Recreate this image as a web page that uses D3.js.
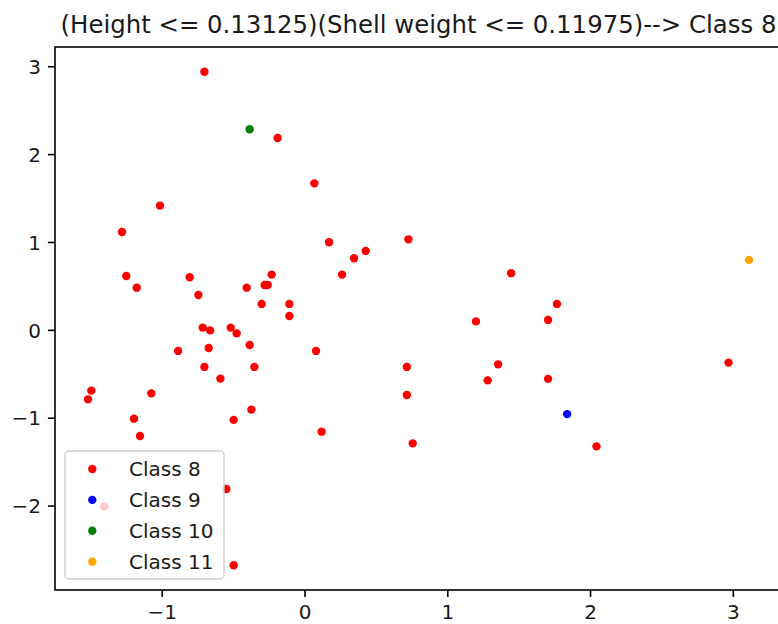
<!DOCTYPE html>
<html>
<head>
<meta charset="utf-8">
<script src="https://cdn.jsdelivr.net/npm/d3@7"></script>
<style>
  html, body { margin: 0; padding: 0; background: #fff; }
  svg { display: block; font-family: "DejaVu Sans", sans-serif; }
</style>
</head>
<body>
<svg id="chart" width="778" height="624"></svg>
<script>
// Class labels shown in the legend
const classNames = ["Class 8", "Class 9", "Class 10", "Class 11"];

// Projected samples, one [x, y] pair per point, grouped by class
const class8Points = [
  [-0.701, 2.938], [-0.188, 2.184], [0.069, 1.667], [-1.012, 1.414],
  [-1.278, 1.114], [0.172, 0.996], [0.728, 1.030], [0.429, 0.898],
  [0.347, 0.814], [0.263, 0.628], [-1.248, 0.613], [-0.804, 0.598],
  [-0.230, 0.628], [-1.175, 0.480], [-0.279, 0.511], [-0.258, 0.511],
  [-0.743, 0.397], [-0.405, 0.480], [-0.300, 0.295], [-0.106, 0.295],
  [-0.106, 0.158], [1.447, 0.645], [1.768, 0.295], [1.201, 0.096],
  [1.706, 0.113], [-0.713, 0.025], [-0.661, -0.006], [-0.517, 0.025],
  [-0.475, -0.040], [-0.885, -0.240], [-0.671, -0.206], [-0.384, -0.172],
  [0.081, -0.240], [-0.701, -0.422], [-0.351, -0.422], [0.717, -0.422],
  [-0.589, -0.555], [-1.493, -0.692], [-1.516, -0.791], [-1.073, -0.723],
  [0.717, -0.741], [-1.194, -1.011], [-0.372, -0.908], [-0.496, -1.025],
  [0.120, -1.159], [0.758, -1.292], [-1.152, -1.208], [-0.547, -1.811],
  [-1.402, -2.012], [-0.496, -2.680], [2.970, -0.373], [1.356, -0.393],
  [1.283, -0.575], [1.706, -0.558], [2.045, -1.326]
];
const class9Points = [[1.840, -0.959]];
const class10Points = [[-0.384, 2.282]];
const class11Points = [[3.113, 0.796]];

// Tick positions on both axes
const xTickValues = [-1, 0, 1, 2, 3];
const yTickValues = [-2, -1, 0, 1, 2, 3];

const chartTitle = "(Height <= 0.13125)(Shell weight <= 0.11975)--> Class 8";

const seriesColors = ["#ff0000", "#0000ff", "#008000", "#ffa500"];
const seriesPoints = [class8Points, class9Points, class10Points, class11Points];

const svg = d3.select("#chart");

// Plot area box
const plotLeft = 55, plotRight = 782, plotTop = 47, plotBottom = 590;

// Autoscale with a 5% margin on each side
const allPoints = seriesPoints.flat();
function padded(ext) {
  const m = (ext[1] - ext[0]) * 0.05;
  return [ext[0] - m, ext[1] + m];
}
const x = d3.scaleLinear()
  .domain(padded(d3.extent(allPoints, d => d[0])))
  .range([plotLeft, plotRight]);
const y = d3.scaleLinear()
  .domain(padded(d3.extent(allPoints, d => d[1])))
  .range([plotBottom, plotTop]);

// Points, one layer per class
seriesPoints.forEach((pts, i) => {
  svg.append("g")
    .selectAll("circle")
    .data(pts)
    .join("circle")
    .attr("cx", d => x(d[0]))
    .attr("cy", d => y(d[1]))
    .attr("r", 4.2)
    .attr("fill", seriesColors[i]);
});

// Axes
const fmt = d3.format("d");
const xAxis = svg.append("g")
  .attr("transform", `translate(0,${plotBottom})`)
  .call(d3.axisBottom(x).tickValues(xTickValues).tickFormat(fmt)
    .tickSize(7).tickPadding(7));
const yAxis = svg.append("g")
  .attr("transform", `translate(${plotLeft},0)`)
  .call(d3.axisLeft(y).tickValues(yTickValues).tickFormat(fmt)
    .tickSize(7).tickPadding(7));

[xAxis, yAxis].forEach(g => {
  g.select(".domain").remove();
  g.selectAll(".tick line").attr("stroke", "#000").attr("stroke-width", 1.6);
  g.selectAll(".tick text")
    .attr("fill", "#1a1a1a")
    .style("font-size", "20px")
    .style("font-family", "DejaVu Sans");
});
xAxis.selectAll(".tick text").attr("dy", "0.76em");
yAxis.selectAll(".tick text").attr("dy", "0.36em");

// Frame around the plot area
svg.append("rect")
  .attr("x", plotLeft).attr("y", plotTop)
  .attr("width", plotRight - plotLeft).attr("height", plotBottom - plotTop)
  .attr("fill", "none")
  .attr("stroke", "#000")
  .attr("stroke-width", 1.6);

// Title
svg.append("text")
  .attr("x", (plotLeft + plotRight) / 2)
  .attr("y", 33)
  .attr("text-anchor", "middle")
  .style("font-size", "24.4px")
  .attr("fill", "#1a1a1a")
  .text(chartTitle);

// Legend
const legend = svg.append("g").attr("transform", "translate(65,451)");
legend.append("rect")
  .attr("x", 0).attr("y", 0)
  .attr("width", 159).attr("height", 128)
  .attr("rx", 4)
  .attr("fill", "#fff").attr("fill-opacity", 0.8)
  .attr("stroke", "#cccccc").attr("stroke-width", 1.3);
const rows = legend.selectAll("g.row")
  .data(classNames)
  .join("g")
  .attr("class", "row")
  .attr("transform", (d, i) => `translate(0,${18 + i * 30.9})`);
rows.append("circle")
  .attr("cx", 27.3).attr("cy", 0)
  .attr("r", 4.2)
  .attr("fill", (d, i) => seriesColors[i]);
rows.append("text")
  .attr("x", 64).attr("y", 7)
  .style("font-size", "20px")
  .attr("fill", "#1a1a1a")
  .text(d => d);
</script>
</body>
</html>
